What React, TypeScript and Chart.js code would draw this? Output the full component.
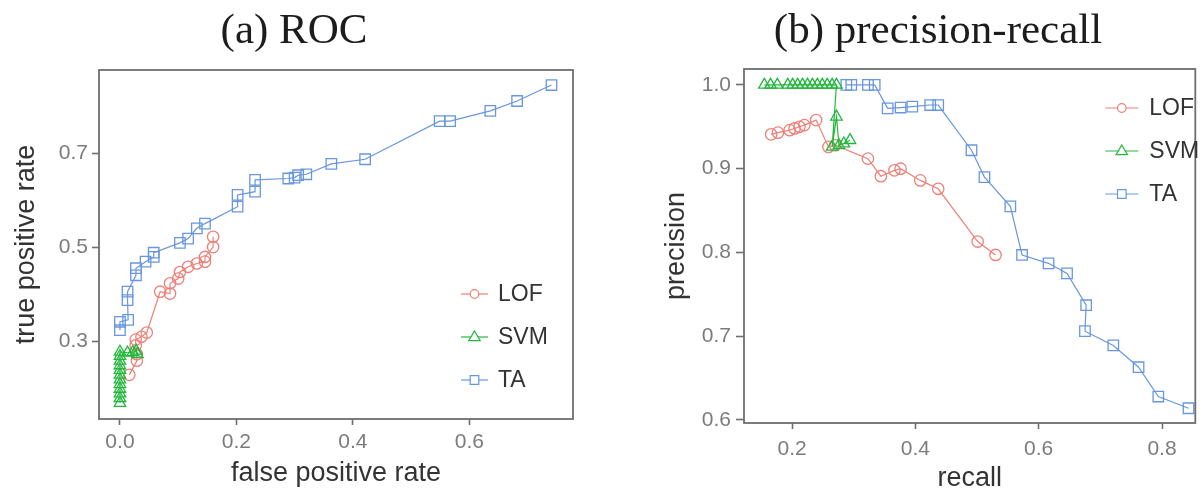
import React, { useEffect, useRef } from 'react';
import { Chart, registerables } from 'chart.js';

Chart.register(...registerables);

// ---------- (a) ROC data ----------
const rocLofFpr = [0.016, 0.029, 0.029, 0.027, 0.027, 0.037, 0.046, 0.069, 0.086, 0.086, 0.1, 0.103, 0.117, 0.132, 0.146, 0.146, 0.16, 0.16];
const rocLofTpr = [0.228, 0.258, 0.272, 0.291, 0.303, 0.309, 0.318, 0.405, 0.401, 0.423, 0.433, 0.447, 0.458, 0.465, 0.469, 0.479, 0.5, 0.522];

const rocSvmFpr = [0, 0, 0, 0, 0, 0, 0, 0, 0, 0, 0, 0, 0.013, 0.022, 0.028, 0.03];
const rocSvmTpr = [0.168, 0.178, 0.188, 0.198, 0.208, 0.218, 0.228, 0.238, 0.248, 0.258, 0.268, 0.277, 0.275, 0.276, 0.279, 0.272];

const rocTaFpr = [0, 0, 0.014, 0.013, 0.013, 0.0275, 0.0275, 0.044, 0.058, 0.058, 0.103, 0.117, 0.132, 0.146, 0.202, 0.202, 0.232, 0.232, 0.289, 0.3, 0.306, 0.32, 0.363, 0.421, 0.549, 0.567, 0.636, 0.682, 0.741];
const rocTaTpr = [0.323, 0.341, 0.345, 0.387, 0.405, 0.44, 0.455, 0.469, 0.479, 0.488, 0.509, 0.518, 0.54, 0.55, 0.586, 0.611, 0.618, 0.643, 0.646, 0.648, 0.653, 0.655, 0.677, 0.687, 0.768, 0.768, 0.79, 0.811, 0.845];

const rocXTicks = [0, 0.2, 0.4, 0.6];
const rocYTicks = [0.3, 0.5, 0.7];

// ---------- (b) precision-recall data ----------
const prLofRecall = [0.166, 0.177, 0.196, 0.204, 0.212, 0.22, 0.239, 0.259, 0.27, 0.323, 0.344, 0.366, 0.376, 0.408, 0.437, 0.501, 0.53];
const prLofPrecision = [0.941, 0.943, 0.946, 0.948, 0.95, 0.952, 0.958, 0.926, 0.928, 0.912, 0.891, 0.898, 0.9, 0.886, 0.876, 0.813, 0.797];

const prSvmRecall = [0.155, 0.165, 0.176, 0.193, 0.201, 0.209, 0.217, 0.225, 0.233, 0.241, 0.249, 0.257, 0.265, 0.272, 0.265, 0.272, 0.276, 0.284, 0.294];
const prSvmPrecision = [1, 1, 1, 1, 1, 1, 1, 1, 1, 1, 1, 1, 1, 1, 0.926, 0.962, 0.928, 0.93, 0.934];

const prTaRecall = [0.288, 0.296, 0.323, 0.334, 0.355, 0.376, 0.395, 0.424, 0.437, 0.491, 0.512, 0.554, 0.573, 0.616, 0.646, 0.677, 0.675, 0.721, 0.762, 0.794, 0.843];
const prTaPrecision = [1, 1, 1, 1, 0.972, 0.973, 0.974, 0.976, 0.976, 0.922, 0.89, 0.855, 0.797, 0.787, 0.775, 0.737, 0.706, 0.689, 0.663, 0.628, 0.614];

const prXTicks = [0.2, 0.4, 0.6, 0.8];
const prYTicks = [0.6, 0.7, 0.8, 0.9, 1.0];

const seriesNames = ['LOF', 'SVM', 'TA'];

// ---------- styling ----------
const COLORS: Record<string, string> = { LOF: '#EE8078', SVM: '#22B83C', TA: '#6896E0' };
const STYLES: Record<string, string> = { LOF: 'circle', SVM: 'triangle', TA: 'rect' };
const RADII: Record<string, number> = { LOF: 5.7, SVM: 6.6, TA: 7.4 };
const ORDERS: Record<string, number> = { LOF: 2, SVM: 0, TA: 1 };
const SANS = "'Liberation Sans', Arial, Helvetica, sans-serif";
const FRAME = '#6e6e6e';
const TICK_TEXT = '#7c7c7c';
const AXIS_TEXT = '#333333';

function pts(xs: number[], ys: number[]) {
  return xs.map((x, i) => ({ x, y: ys[i] }));
}

function makeDataset(name: string, xs: number[], ys: number[]) {
  return {
    label: name,
    data: pts(xs, ys),
    showLine: true,
    borderColor: COLORS[name],
    backgroundColor: 'rgba(0,0,0,0)',
    borderWidth: 1.2,
    tension: 0,
    pointStyle: STYLES[name],
    pointRadius: RADII[name],
    pointBorderWidth: 1.3,
    pointBorderColor: COLORS[name],
    pointBackgroundColor: 'rgba(0,0,0,0)',
    order: ORDERS[name],
  };
}

const panelBox = {
  id: 'panelBox',
  afterDatasetsDraw(chart: any, _args: any, opts: any) {
    const { ctx, chartArea: a } = chart;
    ctx.save();
    ctx.strokeStyle = opts.color;
    ctx.lineWidth = opts.width;
    ctx.strokeRect(a.left, a.top, a.right - a.left, a.bottom - a.top);
    ctx.restore();
  },
};

const panelTitle = {
  id: 'panelTitle',
  afterDraw(chart: any, _args: any, opts: any) {
    const { ctx } = chart;
    ctx.save();
    ctx.font = opts.font;
    ctx.fillStyle = opts.color;
    ctx.textAlign = 'center';
    ctx.textBaseline = 'alphabetic';
    ctx.fillText(opts.text, opts.cx, opts.baseline);
    ctx.restore();
  },
};

function drawMarker(ctx: CanvasRenderingContext2D, style: string, x: number, y: number, s: number) {
  ctx.beginPath();
  if (style === 'circle') {
    ctx.arc(x, y, s, 0, Math.PI * 2);
  } else if (style === 'triangle') {
    ctx.moveTo(x, y - s);
    ctx.lineTo(x + s * 0.95, y + s * 0.6);
    ctx.lineTo(x - s * 0.95, y + s * 0.6);
    ctx.closePath();
  } else {
    ctx.rect(x - s, y - s, 2 * s, 2 * s);
  }
  ctx.fillStyle = '#ffffff';
  ctx.fill();
  ctx.stroke();
}

const insideLegend = {
  id: 'insideLegend',
  afterDraw(chart: any, _args: any, opts: any) {
    const { ctx, chartArea: a } = chart;
    const x0 = a.right - opts.fromRight;
    const y0 = opts.fromBottom != null ? a.bottom - opts.fromBottom : a.top + opts.fromTop;
    chart.data.datasets.forEach((ds: any, i: number) => {
      const y = y0 + i * opts.rowGap;
      ctx.save();
      ctx.strokeStyle = ds.borderColor;
      ctx.lineWidth = 1.2;
      ctx.beginPath();
      ctx.moveTo(x0, y);
      ctx.lineTo(x0 + opts.lineLen, y);
      ctx.stroke();
      drawMarker(ctx, ds.pointStyle, x0 + opts.lineLen / 2, y, ds.pointStyle === 'triangle' ? 6 : 4.3);
      ctx.fillStyle = AXIS_TEXT;
      ctx.font = `23px ${SANS}`;
      ctx.textAlign = 'left';
      ctx.textBaseline = 'middle';
      ctx.fillText(ds.label, x0 + opts.lineLen + opts.textGap, y + 1);
      ctx.restore();
    });
  },
};

function axis(opts: {
  min: number; max: number; ticks: number[]; size: number; horizontal: boolean;
  title: string; titlePad: number; tickLen: number; tickPad: number;
}) {
  return {
    type: 'linear' as const,
    min: opts.min,
    max: opts.max,
    afterBuildTicks: (s: any) => { s.ticks = opts.ticks.map((v) => ({ value: v })); },
    afterFit: (s: any) => { if (opts.horizontal) s.height = opts.size; else s.width = opts.size; },
    ticks: {
      autoSkip: false,
      maxRotation: 0,
      color: TICK_TEXT,
      font: { family: SANS, size: 21 },
      padding: opts.tickPad,
      callback: (v: any) => Number(v).toFixed(1),
    },
    grid: {
      display: true,
      drawOnChartArea: false,
      drawTicks: true,
      tickLength: opts.tickLen,
      color: FRAME,
      tickColor: FRAME,
      tickWidth: 1.6,
    },
    border: { display: false },
    title: {
      display: true,
      text: opts.title,
      color: AXIS_TEXT,
      font: { family: SANS, size: 27 },
      padding: opts.horizontal ? { top: 0, bottom: opts.titlePad } : { top: opts.titlePad, bottom: 0 },
    },
  };
}

export default function App() {
  const rocRef = useRef<HTMLCanvasElement | null>(null);
  const prRef = useRef<HTMLCanvasElement | null>(null);

  useEffect(() => {
    const roc = new Chart(rocRef.current as HTMLCanvasElement, {
      type: 'scatter',
      data: {
        datasets: [
          makeDataset(seriesNames[0], rocLofFpr, rocLofTpr),
          makeDataset(seriesNames[1], rocSvmFpr, rocSvmTpr),
          makeDataset(seriesNames[2], rocTaFpr, rocTaTpr),
        ] as any,
      },
      options: {
        animation: false,
        responsive: false,
        devicePixelRatio: 1,
        layout: { padding: { left: 0, right: 15, top: 70, bottom: 0 } },
        plugins: {
          legend: { display: false },
          tooltip: { enabled: false },
          panelBox: { color: FRAME, width: 1.8 },
          panelTitle: { text: '(a) ROC', cx: 294, baseline: 43, font: "43px 'Liberation Serif', 'Times New Roman', serif", color: '#1c1c1c' },
          insideLegend: { fromRight: 112, fromBottom: 125, rowGap: 43, lineLen: 27, textGap: 10 },
        } as any,
        scales: {
          x: axis({ min: -0.036, max: 0.778, ticks: rocXTicks, size: 73, horizontal: true, title: 'false positive rate', titlePad: 2, tickLen: 6, tickPad: 5 }),
          y: axis({ min: 0.134, max: 0.877, ticks: rocYTicks, size: 99, horizontal: false, title: 'true positive rate', titlePad: 10, tickLen: 7, tickPad: 4 }),
        } as any,
      },
      plugins: [panelBox, panelTitle, insideLegend],
    });

    const pr = new Chart(prRef.current as HTMLCanvasElement, {
      type: 'scatter',
      data: {
        datasets: [
          makeDataset(seriesNames[0], prLofRecall, prLofPrecision),
          makeDataset(seriesNames[1], prSvmRecall, prSvmPrecision),
          makeDataset(seriesNames[2], prTaRecall, prTaPrecision),
        ] as any,
      },
      options: {
        animation: false,
        responsive: false,
        devicePixelRatio: 1,
        layout: { padding: { left: 0, right: 1, top: 69, bottom: 0 } },
        plugins: {
          legend: { display: false },
          tooltip: { enabled: false },
          panelBox: { color: FRAME, width: 1.8 },
          panelTitle: { text: '(b) precision-recall', cx: 298, baseline: 43, font: "43px 'Liberation Serif', 'Times New Roman', serif", color: '#1c1c1c' },
          insideLegend: { fromRight: 90, fromTop: 39, rowGap: 43, lineLen: 33, textGap: 11 },
        } as any,
        scales: {
          x: axis({ min: 0.122, max: 0.854, ticks: prXTicks, size: 69, horizontal: true, title: 'recall', titlePad: -3, tickLen: 6, tickPad: 8 }),
          y: axis({ min: 0.5964, max: 1.019, ticks: prYTicks, size: 104, horizontal: false, title: 'precision', titlePad: 20, tickLen: 8, tickPad: 5 }),
        } as any,
      },
      plugins: [panelBox, panelTitle, insideLegend],
    });

    return () => {
      roc.destroy();
      pr.destroy();
    };
  }, []);

  return (
    <div style={{ position: 'fixed', left: 0, top: 0, width: 1204, height: 492, background: '#ffffff', overflow: 'hidden' }}>
      <canvas ref={rocRef} width={588} height={492} style={{ position: 'absolute', left: 0, top: 0, width: 588, height: 492 }} />
      <canvas ref={prRef} width={564} height={492} style={{ position: 'absolute', left: 640, top: 0, width: 564, height: 492 }} />
    </div>
  );
}
